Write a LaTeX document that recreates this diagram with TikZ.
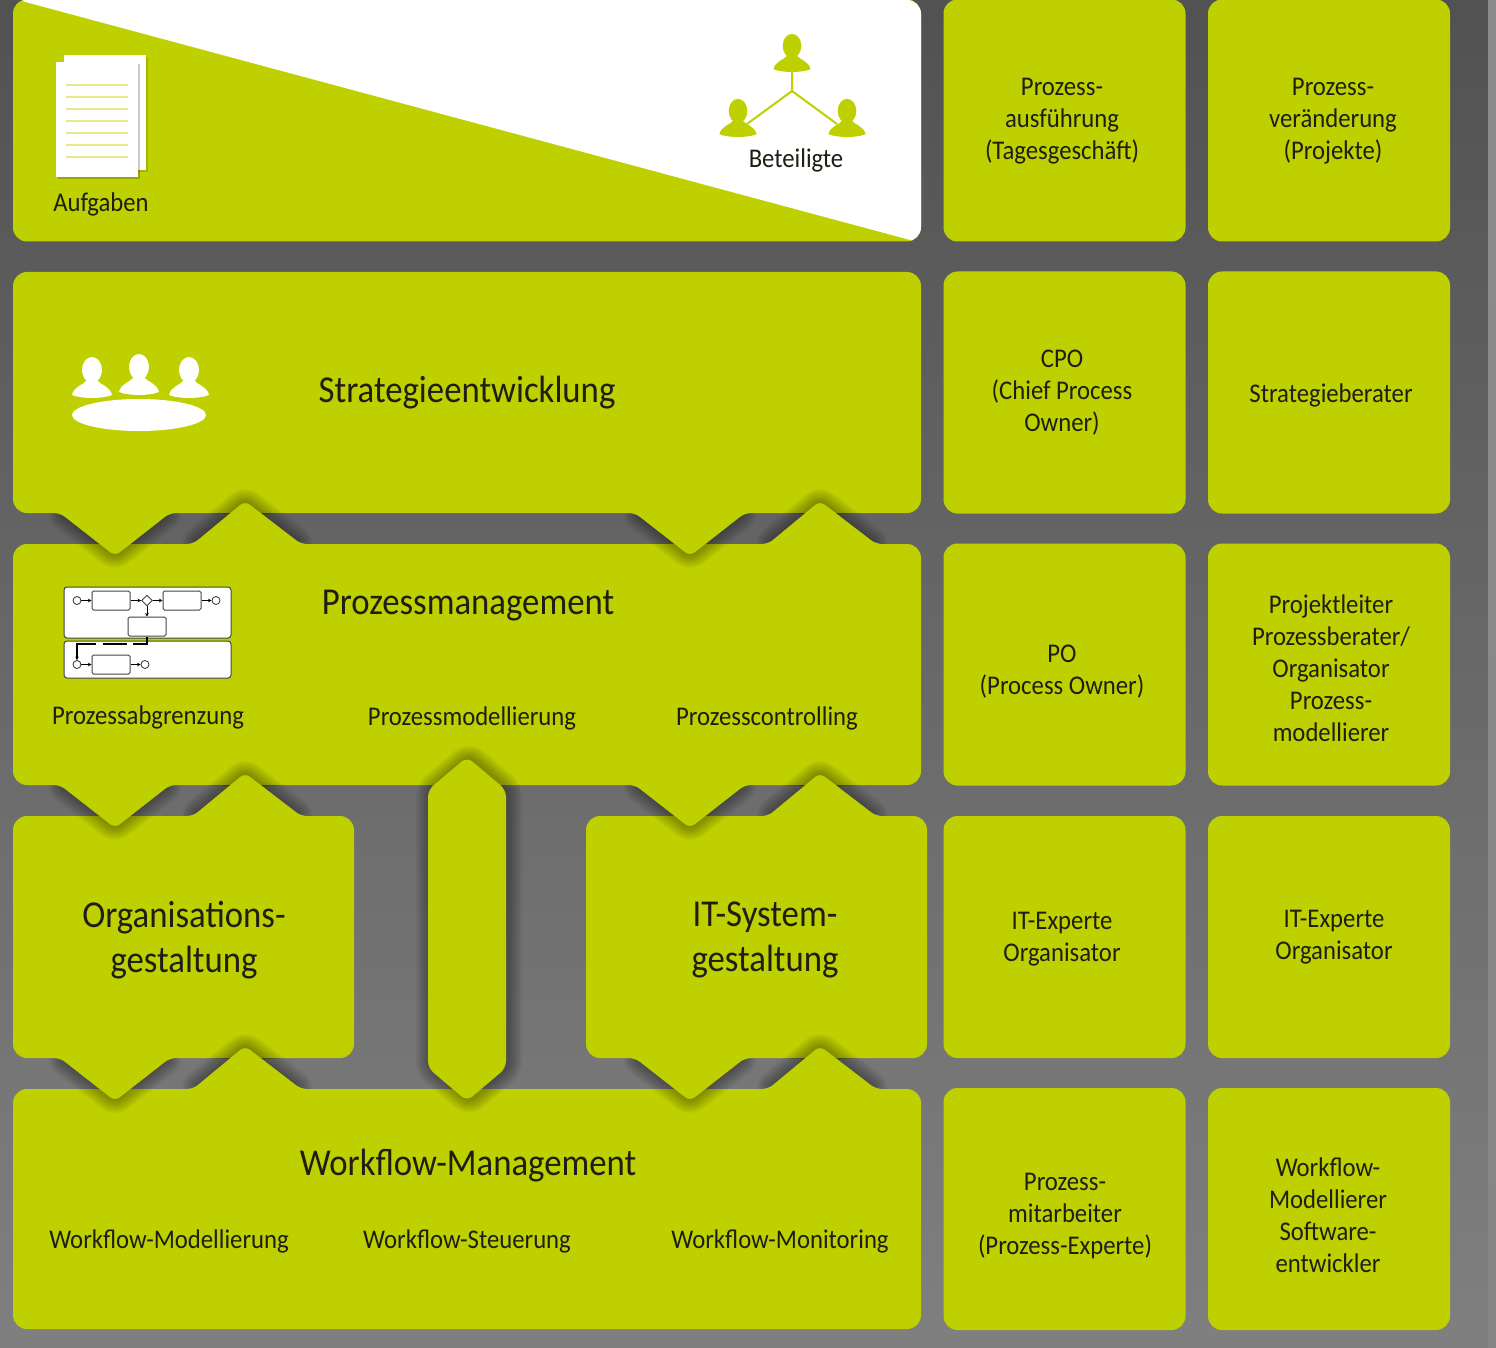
\documentclass[tikz,border=0pt]{standalone}
\usepackage{fontspec}
\setmainfont[FakeStretch=0.915]{Carlito}
\usetikzlibrary{arrows.meta,shapes.geometric}
\definecolor{lime}{HTML}{BFD000}
\definecolor{ink}{HTML}{1E1E14}
\definecolor{bpmn}{HTML}{444444}
\definecolor{sheetline}{HTML}{E8E88C}
\newcommand\tabdn[3]{ -- ({#1+75},#2) [rounded corners=6pt] -- ({#1+55},#2) -- (#1,#3) -- ({#1-55},#2) -- ({#1-75},#2) [rounded corners=14pt]}
\newcommand\tabup[3]{ -- ({#1-75},#2) [rounded corners=6pt] -- ({#1-52},#2) -- (#1,#3) -- ({#1+56},#2) -- ({#1+75},#2) [rounded corners=14pt]}
% shadow + fill of a tab tip where it lies over the neighbouring block
\newcommand\softlayers[1]{\foreach \w in {4,8,...,28}{\draw[black,opacity=.05,line width=\w pt,line join=round] #1;}}
\newcommand\shdn[2]{\softlayers{[rounded corners=6pt] ({#1-55},#2) -- (#1,{#2+43}) -- ({#1+55},#2) -- cycle}}
\newcommand\shup[2]{\softlayers{[rounded corners=6pt] ({#1-52},#2) -- (#1,{#2-43}) -- ({#1+56},#2) -- cycle}}
\newcommand\overdn[3]{\begin{scope}\clip ({#1-90},#3) rectangle ({#1+90},{#3+50});\shdn{#1}{#2}\fill[lime,rounded corners=6pt] ({#1-55},#2) -- (#1,{#2+43}) -- ({#1+55},#2) -- cycle;\end{scope}}
\newcommand\overup[3]{\begin{scope}\clip ({#1-90},#3) rectangle ({#1+90},{#3-50});\shup{#1}{#2}\fill[lime,rounded corners=6pt] ({#1-52},#2) -- (#1,{#2-43}) -- ({#1+56},#2) -- cycle;\end{scope}}
\newcommand\person[4]{\begin{scope}[shift={(#1,#2)},scale=#3]
\fill[#4] (0,-28) ellipse [x radius=10,y radius=13];
\fill[#4] (-5,-22) rectangle (5,-10);
\fill[#4] (-20,-3) .. controls (-18,-12) and (-8,-13) .. (-5,-18) -- (5,-18) .. controls (8,-13) and (18,-12) .. (20,-3) .. controls (10,1) and (-10,1) .. (-20,-3) -- cycle;
\end{scope}}
\tikzset{
 cell/.style={fill=lime,rounded corners=14pt,minimum width=242pt,minimum height=242pt,inner sep=0pt},
 sm/.style={text=ink,font=\fontsize{27}{32}\selectfont,align=center,inner sep=0pt},
 lg/.style={text=ink,font=\fontsize{38}{45}\selectfont,align=center,inner sep=0pt},
 pool/.style={draw=bpmn,fill=white,line width=1pt,rounded corners=3pt,minimum width=167pt,inner sep=0pt},
 task/.style={draw=bpmn,fill=white,line width=1pt,rounded corners=1.5pt,minimum width=38pt,minimum height=19pt,inner sep=0pt},
 evt/.style={draw=bpmn,fill=white,line width=.9pt,circle,minimum size=8pt,inner sep=0pt},
 gate/.style={draw=bpmn,fill=white,line width=.9pt,diamond,minimum size=11pt,inner sep=0pt},
 flow/.style={draw=black,line width=1pt,-{Stealth[length=3.5pt,width=3.5pt]}},
 msg/.style={draw=black,line width=1.3pt,dash pattern=on 22pt off 6pt on 24pt off 7pt on 60pt,-{Stealth[length=3.5pt,width=3.5pt]}}
}
\begin{document}
\begin{tikzpicture}[x=1pt,y=-1pt]
\useasboundingbox (0,0) rectangle (1496,1348);
% background
\shade[top color=black!68,bottom color=black!50] (0,0) rectangle (1488,1348);
\shade[top color=black!45,bottom color=black!48] (1488,0) rectangle (1496,1348);
% tab shadows on the background
\shdn{115}{513}\shdn{690}{513}\shup{245}{544}\shup{820}{544}
\shdn{115}{785}\shdn{690}{785}\shup{245}{816}\shup{820}{816}
\shdn{115}{1058}\shdn{690}{1058}\shup{245}{1089}\shup{820}{1089}
% right-hand cells
\foreach \nm/\cx/\cy in {a1/1064.5/120.5,a2/1329/120.5,b1/1064.5/392.5,b2/1329/392.5,c1/1064.5/664.5,c2/1329/664.5,d1/1064.5/937,d2/1329/937,e1/1064.5/1209,e2/1329/1209}
 \node[cell] (\nm) at (\cx,\cy) {};
% top block with the white wedge
\node[cell,minimum width=908pt] (topblock) at (467,120.5) {};
\begin{scope}
 \clip[rounded corners=14pt] (13,0) rectangle (921,241);
 \fill[white] (18,0) -- (914,241) -- (930,241) -- (930,-5) -- (18,-5) -- cycle;
\end{scope}
% main blocks
\fill[lime,rounded corners=14pt] (13,400) -- (13,272) -- (921,272) -- (921,513) \tabdn{690}{513}{556} \tabdn{115}{513}{556} -- (13,513) -- cycle;
\fill[lime,rounded corners=14pt] (13,650) -- (13,544) \tabup{245}{544}{501} \tabup{820}{544}{501} -- (921,544) -- (921,785) \tabdn{690}{785}{828} \tabdn{115}{785}{828} -- (13,785) -- cycle;
\fill[lime,rounded corners=14pt] (13,930) -- (13,816) \tabup{245}{816}{773} -- (354,816) -- (354,1058) \tabdn{115}{1058}{1101} -- (13,1058) -- cycle;
\fill[lime,rounded corners=14pt] (586,930) -- (586,816) -- (640,816) \tabup{820}{816}{773} -- (927,816) -- (927,1058) \tabdn{690}{1058}{1101} -- (586,1058) -- cycle;
\fill[lime,rounded corners=14pt] (13,1200) -- (13,1089) \tabup{245}{1089}{1046} \tabup{820}{1089}{1046} -- (921,1089) -- (921,1329) -- (13,1329) -- cycle;
% tab tips over the neighbouring blocks
\overdn{115}{513}{544}\overdn{690}{513}{544}
\overup{245}{544}{513}\overup{820}{544}{513}
\overdn{115}{785}{816}\overdn{690}{785}{816}
\overup{245}{816}{785}\overup{820}{816}{785}
\overdn{115}{1058}{1089}\overdn{690}{1058}{1089}
\overup{245}{1089}{1058}\overup{820}{1089}{1058}
% vertical hexagon
\begin{scope}[xshift=2pt]
\softlayers{[rounded corners=7pt] (467,757) -- (506,790) -- (506,1068) -- (467,1101) -- (428,1068) -- (428,790) -- cycle}
\end{scope}
\fill[lime,rounded corners=7pt] (428,900) -- (428,790) -- (467,757) -- (506,790) -- (506,1068) -- (467,1101) -- (428,1068) -- cycle;
% Aufgaben icon
\fill[black,opacity=.12] (66,57) rectangle (148,172);
\fill[white] (64,55) rectangle (146,170);
\fill[black,opacity=.2] (58,64) rectangle (140,179);
\fill[white] (56,62) rectangle (138,177);
\foreach \yy in {85,97,...,157} \draw[sheetline,line width=1.6pt] (66,\yy) -- (128,\yy);
% Beteiligte icon
\coordinate (hub) at (792,91);
\coordinate (pt) at (792,70);
\coordinate (pl) at (747,124);
\coordinate (pr) at (837,124);
\draw[lime,line width=2pt] (pt) -- (hub) -- (pl) (hub) -- (pr);
\person{792}{72}{.93}{lime}
\person{738}{137}{.93}{lime}
\person{847}{137}{.93}{lime}
% Strategie icon
\person{92}{398}{1}{white}
\person{139}{395}{1}{white}
\person{189}{398}{1}{white}
\fill[white] (139,415) ellipse [x radius=67,y radius=16];
% BPMN icon
\node[pool,minimum height=51pt] (pa) at (147.5,612.5) {};
\node[pool,minimum height=37pt] (pb) at (147.5,659.5) {};
\node[evt] (s1) at (77,600.5) {};
\node[task] (t1) at (111,600.5) {};
\node[gate] (g1) at (147,600.5) {};
\node[task] (t2) at (182,600.5) {};
\node[evt] (e1) at (216,600.5) {};
\node[task] (t3) at (147,626.5) {};
\node[evt] (s2) at (77,664.5) {};
\node[task] (t4) at (111,664.5) {};
\node[evt] (e2) at (145,664.5) {};
\draw[flow] (s1) -- (t1);
\draw[flow] (t1) -- (g1);
\draw[flow] (g1) -- (t2);
\draw[flow] (t2) -- (e1);
\draw[flow] (g1) -- (t3);
\draw[flow] (s2) -- (t4);
\draw[flow] (t4) -- (e2);
\draw[msg] (t3.south) -- (147,644) -- (77,644) -- (s2.north);
% block labels
\node[sm] (taufg) at (101,204) {Aufgaben};
\node[sm] (tbet) at (796,160) {Beteiligte};
\node[lg] (tstrat) at (467,393) {Strategieentwicklung};
\node[lg] (tprom) at (468,606) {Prozessmanagement};
\node[sm] (tpa) at (148,717) {Prozessabgrenzung};
\node[sm] (tpm) at (472,718) {Prozessmodellierung};
\node[sm] (tpc) at (767,718) {Prozesscontrolling};
\node[lg] (torg) at (184,940) {Organisations-\\gestaltung};
\node[lg] (tit) at (765,940) {IT-System-\\gestaltung};
\node[lg] (twf) at (468,1166) {Workflow-Management};
\node[sm] (twm) at (169,1241) {Workflow-Modellierung};
\node[sm] (tws) at (467,1241) {Workflow-Steuerung};
\node[sm] (twn) at (780,1241) {Workflow-Monitoring};
% cell labels
\node[sm] (la1) at (1062,121) {Prozess-\\ausführung\\(Tagesgeschäft)};
\node[sm] (la2) at (1333,121) {Prozess-\\veränderung\\(Projekte)};
\node[sm] (lb1) at (1062,393) {CPO\\(Chief Process\\Owner)};
\node[sm] (lb2) at (1331,395) {Strategieberater};
\node[sm] (lc1) at (1062,672) {PO\\(Process Owner)};
\node[sm] (lc2) at (1331,668) {Projektleiter\\Prozessberater/\\Organisator\\Prozess-\\modellierer};
\node[sm] (ld1) at (1062,939) {IT-Experte\\Organisator};
\node[sm] (ld2) at (1334,937) {IT-Experte\\Organisator};
\node[sm] (le1) at (1065,1216) {Prozess-\\mitarbeiter\\(Prozess-Experte)};
\node[sm] (le2) at (1328,1215) {Workflow-\\Modellierer\\Software-\\entwickler};
\end{tikzpicture}
\end{document}
